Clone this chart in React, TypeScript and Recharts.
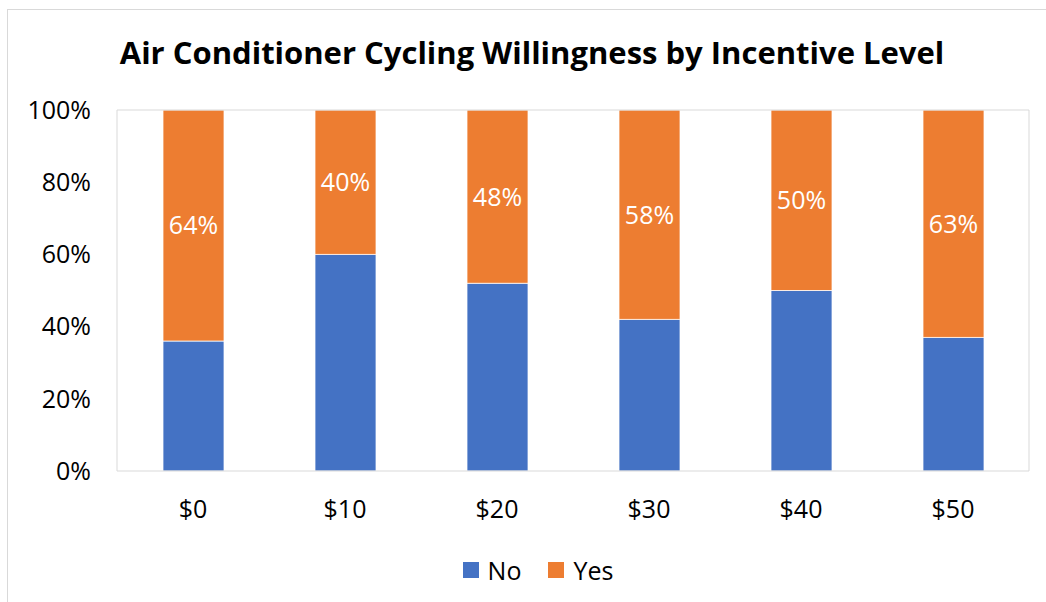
import React from 'react';
import { BarChart, Bar, XAxis, YAxis, LabelList, ReferenceLine } from 'recharts';

const incentives = ['$0', '$10', '$20', '$30', '$40', '$50'];
const noShare = [36, 60, 52, 42, 50, 37];
const yesShare = [64, 40, 48, 58, 50, 63];
const yTicks = [0, 20, 40, 60, 80, 100];

const BLUE = '#4472c4';
const ORANGE = '#ed7d31';
const FRAME = '#d9d9d9';
const FONT = '"Open Sans", sans-serif';

const chartData = incentives.map((label, i) => ({ label, no: noShare[i], yes: yesShare[i] }));

const LegendBox = () => (
  <div style={{ display: 'flex', justifyContent: 'center', alignItems: 'center', fontFamily: FONT, fontSize: 25, color: '#000', height: 40 }}>
    <span style={{ width: 16, height: 16, background: BLUE, display: 'inline-block', marginRight: 9 }} />
    <span style={{ marginRight: 27 }}>No</span>
    <span style={{ width: 16, height: 16, background: ORANGE, display: 'inline-block', marginRight: 9 }} />
    <span>Yes</span>
  </div>
);

export default function App() {
  return (
    <div style={{ position: 'relative', width: 1046, height: 602, overflow: 'hidden', background: '#fff', fontFamily: FONT }}>
      <style>{`body{margin:0}`}</style>
      <div style={{ position: 'absolute', left: 7, top: 9, width: 1100, height: 700, borderLeft: `1px solid ${FRAME}`, borderTop: `1px solid ${FRAME}` }} />
      <div style={{ position: 'absolute', left: 20, top: 37, width: 1024, textAlign: 'center', fontSize: 31, lineHeight: '31px', fontWeight: 700, color: '#000' }}>
        Air Conditioner Cycling Willingness by Incentive Level
      </div>
      <div style={{ position: 'absolute', left: 0, top: 0 }}>
        <BarChart width={1046} height={602} data={chartData} margin={{ top: 110, right: 16, left: 22, bottom: 52 }}>
          <XAxis
            dataKey="label"
            axisLine={{ stroke: FRAME }}
            tickLine={false}
            tickSize={0}
            tickMargin={29}
            height={79}
            tick={{ fill: '#000', fontSize: 25, fontFamily: FONT }}
          />
          <YAxis
            domain={[0, 100]}
            ticks={yTicks}
            tickFormatter={(v: number) => `${v}%`}
            axisLine={{ stroke: FRAME }}
            tickLine={false}
            tickSize={0}
            tickMargin={26}
            width={95}
            tick={{ fill: '#000', fontSize: 25, fontFamily: FONT }}
          />
          <YAxis yAxisId="right" orientation="right" domain={[0, 100]} tick={false} tickLine={false} width={1} axisLine={{ stroke: FRAME }} />
          <ReferenceLine y={100} stroke={FRAME} />
          <Bar dataKey="no" name="No" stackId="a" fill={BLUE} stroke="#ffffff" strokeWidth={0.75} barSize={61} isAnimationActive={false} />
          <Bar dataKey="yes" name="Yes" stackId="a" fill={ORANGE} stroke="#ffffff" strokeWidth={0.75} barSize={61} isAnimationActive={false}>
            <LabelList dataKey="yes" position="center" formatter={(v: any) => `${v}%`} fill="#ffffff" fontSize={25} fontFamily={FONT} />
          </Bar>
        </BarChart>
      </div>
      <div style={{ position: 'absolute', left: 26, top: 550, width: 1024 }}>
        <LegendBox />
      </div>
    </div>
  );
}
